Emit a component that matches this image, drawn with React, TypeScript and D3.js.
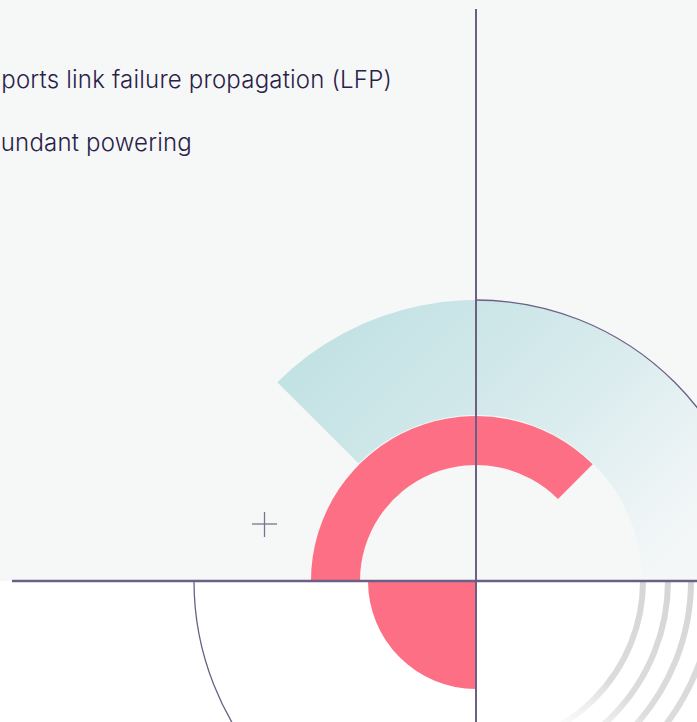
import { useMemo } from "react";
import * as d3 from "d3";

const WIDTH = 697;
const HEIGHT = 722;

// features listed at top (left part cut off in the source)
const features = ["Supports link failure propagation (LFP)", "Redundant powering"];
const featureEnds = [392, 192];

// radial pieces, d3.arc convention (0 = up, clockwise)
const tealArc = { inner: 166, outer: 281, start: -Math.PI / 4, end: Math.PI / 2 };
const pinkRing = { inner: 116, outer: 165, start: -Math.PI / 2, end: Math.PI / 4 };
const pinkQuarter = { inner: 0, outer: 108, start: Math.PI, end: (3 * Math.PI) / 2 };
const outlineArcs = [
  { r: 281, start: 0, end: Math.PI / 2 },
  { r: 282, start: Math.PI, end: (3 * Math.PI) / 2 },
];
const grayRings = [167, 192, 215, 238];

const CENTER = { x: 476, y: 581 };

const App = () => {
  const arc = d3.arc<any>();
  const paths = useMemo(() => {
    const mk = (a: any) =>
      arc({ innerRadius: a.inner, outerRadius: a.outer, startAngle: a.start, endAngle: a.end });
    return {
      teal: mk(tealArc),
      ring: mk(pinkRing),
      quarter: mk(pinkQuarter),
    };
  }, []);

  const lineArc = (r: number, s: number, e: number) =>
    arc({ innerRadius: r, outerRadius: r, startAngle: s, endAngle: e });

  return (
    <div style={{ position: "fixed", left: 0, top: 0 }}>
      <svg width={WIDTH} height={HEIGHT} style={{ display: "block" }}>
        <defs>
          <linearGradient id="tealGrad" x1="0" y1="0" x2="1" y2="0.6">
            <stop offset="0%" stopColor="#bcdfe1" />
            <stop offset="55%" stopColor="#d6eaec" />
            <stop offset="100%" stopColor="#f4f7f8" />
          </linearGradient>
          <linearGradient id="grayGrad" x1="1" y1="0" x2="0.3" y2="1">
            <stop offset="0%" stopColor="#d6d6d6" />
            <stop offset="50%" stopColor="#dcdcdc" />
            <stop offset="100%" stopColor="#ffffff" stopOpacity={0} />
          </linearGradient>
          <clipPath id="bottomClip">
            <rect x={0} y={CENTER.y} width={WIDTH} height={HEIGHT - CENTER.y} />
          </clipPath>
        </defs>

        <rect x={0} y={0} width={WIDTH} height={CENTER.y} fill="#f6f8f8" />
        <rect x={0} y={CENTER.y} width={WIDTH} height={HEIGHT - CENTER.y} fill="#ffffff" />

        {features.map((t, i) => (
          <text
            key={t}
            x={featureEnds[i]}
            y={88 + i * 63}
            textAnchor="end"
            fontFamily="Inter, 'Noto Sans', sans-serif"
            fontSize={24}
            fontWeight={300}
            letterSpacing={0.2}
            fill="#2b2148"
          >
            {t}
          </text>
        ))}

        <g transform={`translate(${CENTER.x},${CENTER.y})`}>
          <path d={paths.teal || ""} fill="url(#tealGrad)" />
          <g clipPath="url(#bottomClip)" transform={`translate(${-CENTER.x},${-CENTER.y})`}>
            <g transform={`translate(${CENTER.x},${CENTER.y})`}>
              {grayRings.map((r) => (
                <path
                  key={r}
                  d={lineArc(r, Math.PI / 2, Math.PI) || ""}
                  fill="none"
                  stroke="url(#grayGrad)"
                  strokeWidth={6}
                />
              ))}
            </g>
          </g>
          <path d={paths.ring || ""} fill="#fd6f85" />
          <path d={paths.quarter || ""} fill="#fd6f85" />
          {outlineArcs.map((a, i) => (
            <path
              key={i}
              d={lineArc(a.r, a.start, a.end) || ""}
              fill="none"
              stroke="#6b5f86"
              strokeWidth={1.3}
            />
          ))}
        </g>

        <line x1={CENTER.x} x2={CENTER.x} y1={9} y2={HEIGHT} stroke="#6b5f86" strokeWidth={2} />
        <line x1={12} x2={WIDTH} y1={CENTER.y} y2={CENTER.y} stroke="#6b5f86" strokeWidth={2.5} />

        <g stroke="#7a7290" strokeWidth={1.3}>
          <line x1={252} x2={277} y1={524} y2={524} />
          <line x1={264.5} x2={264.5} y1={512} y2={537} />
        </g>
      </svg>
    </div>
  );
};

export default App;
